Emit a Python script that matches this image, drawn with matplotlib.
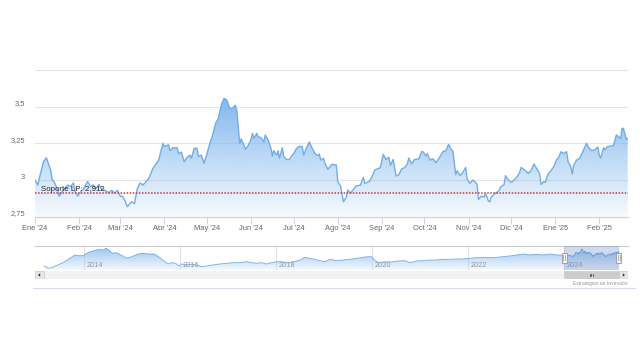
import numpy as np
import pandas as pd
import matplotlib
matplotlib.use("Agg")
import matplotlib.pyplot as plt
import matplotlib.dates as mdates
import matplotlib.colors as mcolors
import matplotlib.transforms as mtransforms
from matplotlib.patches import Rectangle, Polygon
from matplotlib.lines import Line2D

plt.rcParams['font.family'] = ['Liberation Sans', 'DejaVu Sans']

# precio diario (dias desde 2024-01-01)
days = [0, 2, 3, 6, 8, 9, 11, 12, 14, 16, 17, 19, 21, 23, 25, 27, 28, 30, 32, 34,
        37, 39, 41, 43, 45, 47, 49, 52, 54, 56, 58, 60, 62, 65, 68, 70, 72, 74, 76, 80,
        83, 87, 90, 91, 94, 95, 97, 100, 101, 103, 105, 107, 109, 110, 112, 114, 115, 117, 119, 121,
        123, 125, 127, 129, 131, 133, 135, 137, 139, 141, 142, 144, 145, 147, 148, 150, 152, 153, 154, 156,
        157, 159, 161, 162, 164, 166, 167, 168, 170, 171, 172, 174, 175, 177, 179, 181, 182, 184, 186, 188,
        189, 191, 193, 195, 197, 199, 200, 201, 203, 204, 206, 208, 209, 212, 213, 215, 217, 219, 220, 222,
        224, 226, 229, 231, 232, 235, 237, 239, 242, 243, 245, 247, 249, 250, 252, 254, 256, 258, 260, 262,
        263, 265, 267, 270, 272, 273, 275, 276, 278, 280, 282, 284, 287, 289, 291, 293, 294, 296, 297, 299,
        301, 303, 304, 306, 308, 310, 311, 312, 314, 316, 317, 319, 320, 321, 324, 326, 328, 330, 331, 333,
        335, 336, 339, 341, 342, 345, 347, 349, 351, 353, 355, 356, 358, 359, 361, 363, 365, 367, 368, 370,
        372, 374, 375, 377, 378, 379, 381, 383, 385, 386, 388, 390, 392, 394, 396, 397, 398, 400, 401, 403,
        405, 407, 409, 410, 412, 413, 414, 416, 417]
price = [3.00, 2.966, 3.01, 3.125, 3.152, 3.125, 3.07, 3.005, 2.977, 2.93,
         2.89, 2.92, 2.943, 2.966, 2.955, 2.98, 2.93, 2.89, 2.92, 2.936,
         2.99, 2.955, 2.966, 2.943, 2.97, 2.936, 2.93, 2.914, 2.93, 2.91,
         2.93, 2.89, 2.886, 2.818, 2.852, 2.84, 2.943, 2.98, 2.966, 3.01,
         3.08, 3.136, 3.25, 3.23, 3.24, 3.2, 3.22, 3.22, 3.18, 3.19,
         3.125, 3.155, 3.17, 3.148, 3.216, 3.216, 3.16, 3.17, 3.114, 3.18,
         3.25, 3.307, 3.386, 3.42, 3.51, 3.557, 3.545, 3.489, 3.49, 3.51,
         3.476, 3.25, 3.28, 3.238, 3.21, 3.235, 3.278, 3.318, 3.284, 3.318,
         3.295, 3.29, 3.26, 3.307, 3.273, 3.216, 3.164, 3.2, 3.17, 3.2,
         3.148, 3.22, 3.16, 3.14, 3.14, 3.17, 3.18, 3.216, 3.23, 3.227,
         3.17, 3.22, 3.26, 3.216, 3.18, 3.166, 3.177, 3.136, 3.148, 3.114,
         3.073, 3.095, 3.107, 3.102, 2.989, 2.959, 2.852, 2.882, 2.932, 2.911,
         2.936, 2.959, 2.966, 3.018, 2.977, 2.989, 3.02, 3.068, 3.08, 3.086,
         3.175, 3.14, 3.155, 3.1, 3.14, 3.027, 3.036, 3.077, 3.084, 3.11,
         3.15, 3.11, 3.14, 3.145, 3.193, 3.193, 3.164, 3.18, 3.136, 3.145,
         3.118, 3.145, 3.193, 3.2, 3.243, 3.205, 3.2, 3.036, 3.064, 3.03,
         3.052, 3.086, 3.007, 2.977, 3.0, 2.984, 2.968, 2.868, 2.89, 2.884,
         2.907, 2.857, 2.852, 2.884, 2.911, 2.922, 2.957, 2.968, 3.03, 3.0,
         2.984, 2.991, 3.02, 3.052, 3.086, 3.064, 3.045, 3.064, 3.11, 3.077,
         3.045, 2.97, 2.989, 2.984, 3.041, 3.064, 3.091, 3.14, 3.145, 3.193,
         3.18, 3.193, 3.127, 3.089, 3.041, 3.1, 3.136, 3.145, 3.184, 3.207,
         3.25, 3.214, 3.2, 3.207, 3.225, 3.168, 3.15, 3.22, 3.207, 3.23,
         3.23, 3.236, 3.307, 3.3, 3.284, 3.352, 3.352, 3.277, 3.284]

soporte = 2.912
soporte_label = "Soporte LP: 2,912"

month_labels = ["Ene '24", "Feb '24", "Mar '24", "Abr '24", "May '24", "Jun '24", "Jul '24",
                "Ago '24", "Sep '24", "Oct '24", "Nov '24", "Dic '24", "Ene '25", "Feb '25"]
y_ticks = [2.75, 3.0, 3.25, 3.5, 3.75]
y_labels = ["2,75", "3", "3,25", "3,5", ""]

# historico para el navegador (año decimal, precio) hasta fin de 2023
nav_year = [2013.17, 2013.26, 2013.33, 2013.40, 2013.50, 2013.60, 2013.71, 2013.81, 2013.90, 2013.98,
            2014.06, 2014.12, 2014.19, 2014.26, 2014.33, 2014.40, 2014.46, 2014.53, 2014.60, 2014.67,
            2014.73, 2014.81, 2014.89, 2014.96, 2015.04, 2015.13, 2015.23, 2015.34, 2015.46, 2015.55,
            2015.62, 2015.69, 2015.75, 2015.83, 2015.91, 2015.98, 2016.03, 2016.14, 2016.24, 2016.35,
            2016.45, 2016.55, 2016.69, 2016.83, 2016.97, 2017.11, 2017.25, 2017.39, 2017.49, 2017.60,
            2017.70, 2017.80, 2017.91, 2018.01, 2018.12, 2018.22, 2018.36, 2018.50, 2018.60, 2018.70,
            2018.81, 2018.91, 2019.02, 2019.12, 2019.26, 2019.40, 2019.54, 2019.68, 2019.81, 2019.92,
            2019.99, 2020.02, 2020.06, 2020.13, 2020.27, 2020.41, 2020.54, 2020.68, 2020.79, 2020.93,
            2021.06, 2021.20, 2021.34, 2021.48, 2021.62, 2021.76, 2021.90, 2022.04, 2022.18, 2022.31,
            2022.45, 2022.59, 2022.73, 2022.87, 2023.01, 2023.15, 2023.29, 2023.42, 2023.56, 2023.70,
            2023.84, 2023.98]
nav_price = [1.955, 1.737, 1.79, 1.955, 2.145, 2.36, 2.69, 3.0, 2.93, 2.93,
             3.16, 3.31, 3.38, 3.475, 3.54, 3.475, 3.64, 3.41, 3.16, 3.22,
             3.095, 2.905, 2.69, 2.78, 2.93, 3.095, 3.16, 3.095, 3.095, 2.84,
             2.59, 2.36, 2.145, 2.27, 2.21, 1.955, 2.145, 2.05, 2.12, 2.05,
             1.89, 1.955, 2.05, 2.145, 2.21, 2.27, 2.27, 2.36, 2.27, 2.21,
             2.27, 2.145, 2.27, 2.36, 2.36, 2.27, 2.36, 2.525, 2.78, 2.69,
             2.59, 2.46, 2.36, 2.59, 2.46, 2.525, 2.59, 2.69, 2.78, 2.84,
             2.84, 2.69, 2.46, 2.27, 2.36, 2.335, 2.43, 2.46, 2.27, 2.43,
             2.46, 2.525, 2.525, 2.59, 2.59, 2.62, 2.62, 2.69, 2.745, 2.78,
             2.745, 2.78, 2.84, 2.905, 3.0, 3.095, 3.0, 3.07, 3.0, 3.095,
             3.0, 3.0]
nav_years_axis = [2014, 2016, 2018, 2020, 2022, 2024]

LINE = '#72ade9'
FILL = '#7cb5ec'
W, H = 640, 360


def year_to_num(yr):
    yr = np.asarray(yr, dtype=float)
    base = pd.Timestamp('2013-01-01')
    return mdates.date2num(base + pd.to_timedelta((yr - 2013) * 365.25, unit='D'))


def grad_fill(a, xs, ys, base, a_top, a_bot, z):
    poly = a.fill_between(xs, ys, base, facecolor='none', edgecolor='none')
    g = np.zeros((256, 1, 4))
    g[:, :, :3] = mcolors.to_rgb(FILL)
    g[:, 0, 3] = np.linspace(a_bot, a_top, 256)
    im = a.imshow(g, extent=[xs.min(), xs.max(), base, max(ys)], origin='lower',
                  aspect='auto', zorder=z, interpolation='bilinear')
    im.set_clip_path(poly.get_paths()[0], transform=poly.get_transform())


fig = plt.figure(figsize=(6.4, 3.6), dpi=100)

# ---- grafico principal ----
ax = fig.add_axes([35 / W, 1 - 216.7 / H, 593 / W, 146.7 / H])
start = pd.Timestamp('2024-01-01')
x = mdates.date2num(start + pd.to_timedelta(days, unit='D'))
y = np.array(price)

grad_fill(ax, x, y, 2.75, 0.95, 0.06, 1)
ax.plot(x, y, color=LINE, lw=1.0, zorder=3)
ax.axhline(soporte, color='#b54040', lw=1.1, ls=(0, (1, 1)), zorder=4)
ax.text(0.01, soporte, soporte_label, transform=mtransforms.blended_transform_factory(ax.transAxes, ax.transData),
        fontsize=5.7, color='#222222', ha='left', va='bottom', zorder=5)

ax.set_xlim(mdates.date2num(start), mdates.date2num(start) + 417.2)
ax.set_ylim(2.75, 3.75)
ax.set_yticks(y_ticks)
ax.set_yticklabels(y_labels)
month_pos = mdates.date2num(pd.date_range('2024-01-01', periods=len(month_labels), freq='MS'))
ax.set_xticks(month_pos)
ax.set_xticklabels(month_labels)
ax.yaxis.grid(True, color='#e6e6e6', lw=0.8, zorder=0)
ax.set_axisbelow(True)
for s in ['top', 'right', 'left']:
    ax.spines[s].set_visible(False)
ax.spines['bottom'].set_color('#ccd6eb')
ax.spines['bottom'].set_linewidth(0.9)
ax.tick_params(axis='x', length=5, width=0.8, color='#ccd6eb', labelsize=5.4, labelcolor='#666666', pad=1)
ax.tick_params(axis='y', length=0, labelsize=5.4, labelcolor='#666666', pad=7)
up = mtransforms.ScaledTranslation(0, 4 / 100, fig.dpi_scale_trans)
for lab in ax.get_yticklabels():
    lab.set_transform(lab.get_transform() + up)

# ---- navegador ----
nav = fig.add_axes([35 / W, 1 - 270 / H, 593 / W, 24 / H])
nx = np.concatenate([year_to_num(nav_year), x])
ny = np.concatenate([nav_price, y])
nav_lo, nav_hi = 1.575, 3.855
grad_fill(nav, nx, ny, nav_lo, 0.75, 0.08, 1)
nav.plot(nx, ny, color=LINE, lw=0.6, zorder=3)
nav.set_xlim(year_to_num(2012.98), year_to_num(2025.33))
nav.set_ylim(nav_lo, nav_hi)
grid_pos = year_to_num(nav_years_axis)
for gp, yr in zip(grid_pos, nav_years_axis):
    nav.axvline(gp, color='#e6e6e6', lw=0.8, zorder=0)
    nav.text(gp, 0.2, str(yr), transform=mtransforms.blended_transform_factory(nav.transData, nav.transAxes)
             + mtransforms.ScaledTranslation(2.5 / 100, 0, fig.dpi_scale_trans),
             fontsize=5.3, color='#999999', ha='left', va='center', zorder=4)
nav.set_xticks([])
nav.set_yticks([])
for s in ['bottom', 'right', 'left']:
    nav.spines[s].set_visible(False)
nav.spines['top'].set_color('#cccccc')
nav.spines['top'].set_linewidth(0.8)

sel0, sel1 = mdates.date2num(start), x[-1]
bl = mtransforms.blended_transform_factory(nav.transData, nav.transAxes)
nav.add_patch(Rectangle((sel0, 0), sel1 - sel0, 1, transform=bl, facecolor='#6685c2', alpha=0.3,
                        edgecolor='none', zorder=5))
hw = (year_to_num(2014) - year_to_num(2013)) * 5 / 48.0
for hx in [sel0, sel1]:
    nav.add_patch(Rectangle((hx - hw / 2, 0.3), hw, 0.42, transform=bl, facecolor='#f2f2f2',
                            edgecolor='#999999', lw=0.6, zorder=6))
    for dx in [-0.18, 0.18]:
        nav.plot([hx + dx * hw, hx + dx * hw], [0.4, 0.62], transform=bl, color='#999999', lw=0.5, zorder=7)

# ---- barra de desplazamiento ----
sb = fig.add_axes([35 / W, 1 - 279.3 / H, 593 / W, 8.6 / H])
sb.set_xlim(nav.get_xlim())
sb.set_ylim(0, 1)
sb.set_facecolor('#f2f2f2')
for s in sb.spines.values():
    s.set_visible(False)
sb.set_xticks([])
sb.set_yticks([])
sb.add_patch(Rectangle((sel0, 0), sel1 - sel0, 1, facecolor='#cccccc', edgecolor='#cccccc', lw=0.5))
mid = (sel0 + sel1) / 2
for k in [-1, 0, 1]:
    sb.plot([mid + k * hw * 0.3] * 2, [0.35, 0.65], color='#333333', lw=0.5)
bw = 8.6 / 593
sa = sb.transAxes
sb.add_patch(Rectangle((0, 0), bw, 1, transform=sa, facecolor='#e6e6e6', edgecolor='#cccccc', lw=0.5))
sb.add_patch(Rectangle((1 - bw, 0), bw, 1, transform=sa, facecolor='#e6e6e6', edgecolor='#cccccc', lw=0.5))
sb.add_patch(Polygon([[bw * 0.35, 0.5], [bw * 0.6, 0.7], [bw * 0.6, 0.3]], closed=True, transform=sa,
                     facecolor='#333333', edgecolor='none'))
sb.add_patch(Polygon([[1 - bw * 0.35, 0.5], [1 - bw * 0.6, 0.7], [1 - bw * 0.6, 0.3]], closed=True,
                     transform=sa, facecolor='#333333', edgecolor='none'))

# pie
fig.text(628 / W, 1 - 283.5 / H, 'Estrategias de Inversión', ha='right', va='center',
         fontsize=3.6, color='#999999')
fig.add_artist(Line2D([33 / W, 635 / W], [1 - 288.3 / H] * 2, color='#d6d9f0', lw=0.8))

fig.savefig('out.png', dpi=100, facecolor='white')
